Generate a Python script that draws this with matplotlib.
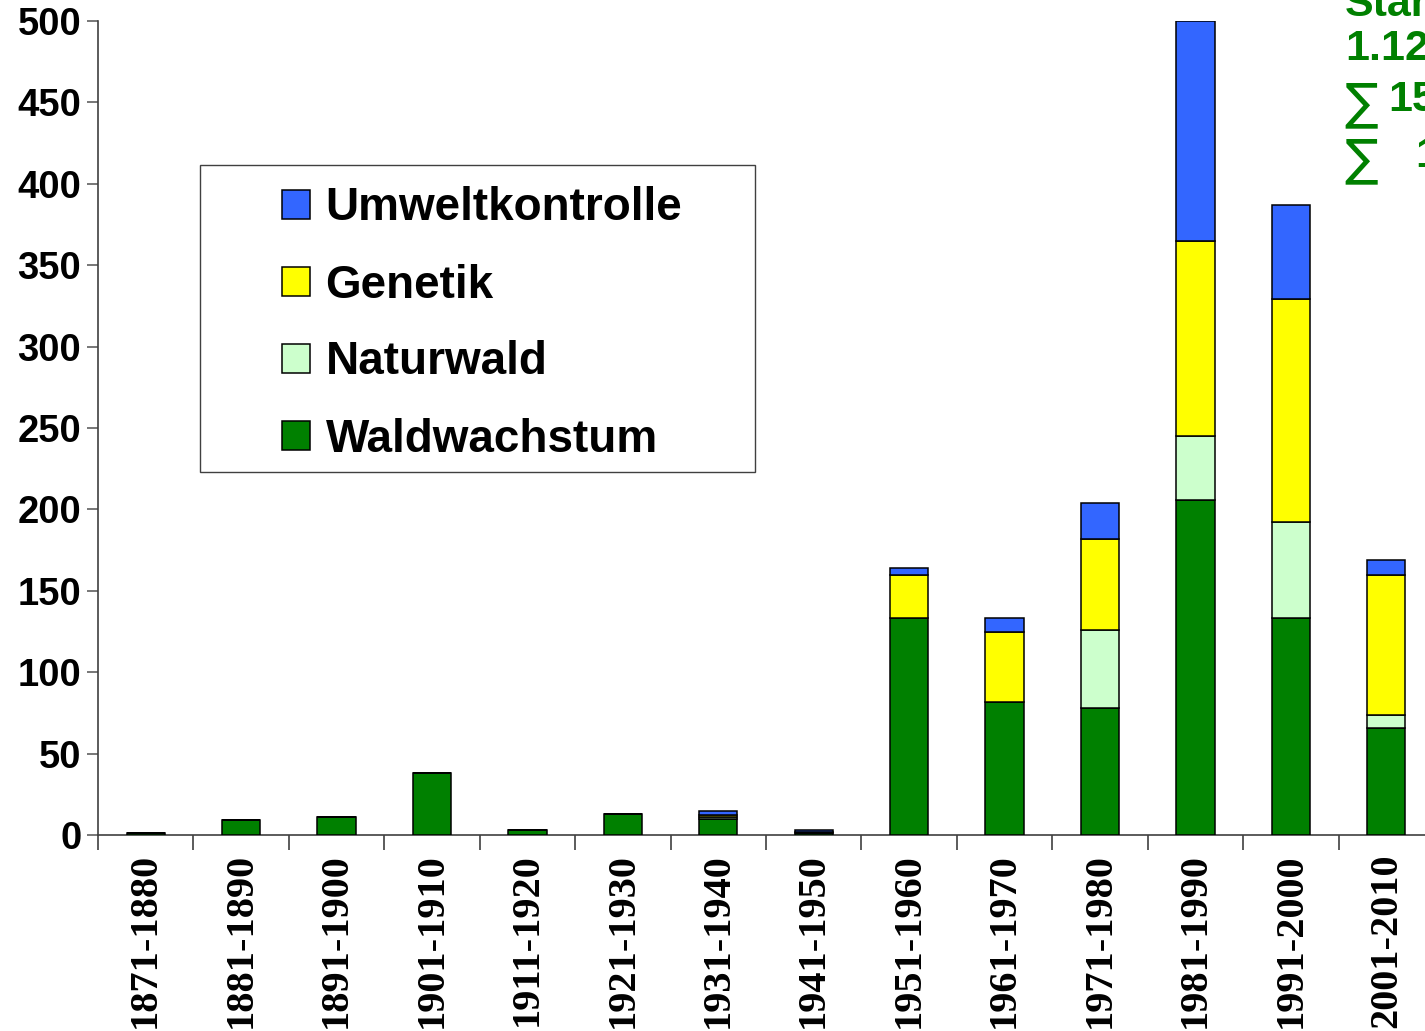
import matplotlib
matplotlib.use("Agg")
import matplotlib.pyplot as plt
from matplotlib.patches import Rectangle
import numpy as np

categories = ["1871-1880", "1881-1890", "1891-1900", "1901-1910", "1911-1920",
              "1921-1930", "1931-1940", "1941-1950", "1951-1960", "1961-1970",
              "1971-1980", "1981-1990", "1991-2000", "2001-2010"]
waldwachstum = [1, 9, 11, 38, 3, 13, 10, 1, 133, 82, 78, 206, 133, 66]
naturwald = [0, 0, 0, 0, 0, 0, 1, 0, 0, 0, 48, 39, 59, 8]
genetik = [0, 0, 0, 0, 0, 0, 1, 1, 27, 43, 56, 120, 137, 86]
umweltkontrolle = [0, 0, 0, 0, 0, 0, 3, 1, 4, 8, 22, 135, 58, 9]

series = [("Waldwachstum", waldwachstum, "#008000"),
          ("Naturwald", naturwald, "#CCFFCC"),
          ("Genetik", genetik, "#FFFF00"),
          ("Umweltkontrolle", umweltkontrolle, "#3366FF")]

yticks = [0, 50, 100, 150, 200, 250, 300, 350, 400, 450, 500]

W, H = 1425, 1031
fig = plt.figure(figsize=(W / 100, H / 100), dpi=100)
ax = fig.add_axes([98 / W, 196 / H, (1434 - 98) / W, (1010 - 196) / H])

x = np.arange(len(categories))
bottom = np.zeros(len(categories))
handles = []
for name, vals, col in series:
    v = np.array(vals, dtype=float)
    b = ax.bar(x, v, 0.4, bottom=bottom, color=col, edgecolor="black",
               linewidth=1.1, label=name, zorder=3)
    handles.append(b)
    bottom += v

ax.set_xlim(-0.5, len(categories) - 0.5)
ax.set_ylim(0, 500)
ax.set_yticks(yticks)
ax.set_yticklabels([str(t) for t in yticks], fontsize=27.5, fontweight="bold",
                   family="Liberation Sans")
ax.set_xticks(x)
ax.set_xticklabels(categories, rotation=90, fontsize=29, fontweight="bold",
                   family="Liberation Serif")
ax.set_xticks(np.arange(len(categories) + 1) - 0.5, minor=True)
ax.tick_params(axis="x", which="major", length=0, pad=13)
ax.tick_params(axis="x", which="minor", length=11, width=1.2, color="#404040", direction="out")
ax.tick_params(axis="y", which="major", length=8, width=1.2, color="#606060", direction="out", pad=4)

for s in ["top", "right"]:
    ax.spines[s].set_visible(False)
for s in ["left", "bottom"]:
    ax.spines[s].set_color("#404040")
    ax.spines[s].set_linewidth(1.2)

# legend frame
fig.patches.append(Rectangle((200 / W, 1 - 472 / H), (755 - 200) / W, (472 - 165) / H,
                             transform=fig.transFigure, facecolor="white",
                             edgecolor="#404040", linewidth=1.0, zorder=5))
leg = fig.legend(handles=handles[::-1], labels=[s[0] for s in series][::-1],
                 loc="center left", bbox_to_anchor=(282 / W, 1 - 324 / H),
                 frameon=False, borderpad=0, borderaxespad=0,
                 handlelength=0.62, handleheight=0.62, handletextpad=0.33,
                 labelspacing=0.72,
                 prop={"family": "Liberation Sans", "weight": "bold", "size": 33})
leg.set_zorder(6)

green = "#008000"
fkw = dict(color=green, fontsize=31, fontweight="bold",
           family=["Liberation Sans", "DejaVu Sans"], va="center", ha="left",
           transform=fig.transFigure)
skw = dict(color=green, fontsize=36, fontweight="normal",
           family=["DejaVu Sans"], va="center", ha="left",
           transform=fig.transFigure)
fig.text(1345 / W, 1 - 5 / H, "Stand:", **fkw)
fig.text(1345 / W, 1 - 49 / H, "1.12.2010", **fkw)
fig.text(1344 / W, 1 - 104 / H, "\u2211", **skw)
fig.text(1388 / W, 1 - 100 / H, "1500", **fkw)
fig.text(1344 / W, 1 - 160 / H, "\u2211", **skw)
fig.text(1415 / W, 1 - 156 / H, "100", **fkw)

fig.savefig("out.png", dpi=100)
